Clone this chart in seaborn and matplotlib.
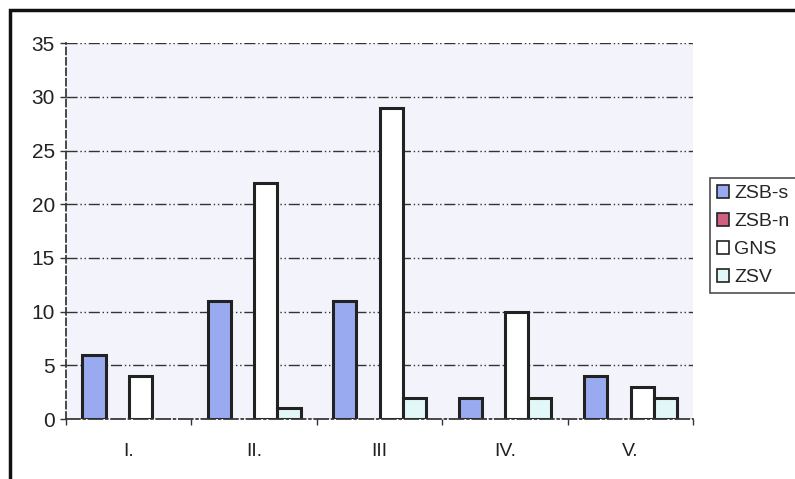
import matplotlib
matplotlib.use("Agg")
import matplotlib.pyplot as plt
import seaborn as sns
import pandas as pd
from matplotlib.patches import Rectangle

categories = ["I.", "II.", "III", "IV.", "V."]
series = ["ZSB-s", "ZSB-n", "GNS", "ZSV"]
zsb_s = [6, 11, 11, 2, 4]
zsb_n = [0, 0, 0, 0, 0]
gns = [4, 22, 29, 10, 3]
zsv = [0, 1, 2, 2, 2]
colors = ["#9aaaf0", "#d06080", "#ffffff", "#e2f8f8"]

rows = []
for name, vals in zip(series, [zsb_s, zsb_n, gns, zsv]):
    for c, v in zip(categories, vals):
        rows.append({"cat": c, "series": name, "value": v})
df = pd.DataFrame(rows)

sns.set_theme(style="white")
plt.rcParams['font.family'] = ['Liberation Sans', 'DejaVu Sans']

fig = plt.figure(figsize=(7.95, 4.79), dpi=100)
ax = fig.add_axes([0.083, 0.125, 0.789, 0.785])
ax.set_facecolor("#f3f3fb")

sns.barplot(data=df, x="cat", y="value", hue="series", order=categories,
            hue_order=series, palette=colors, width=0.74, edgecolor="#222222",
            linewidth=2.2, ax=ax, legend=False, saturation=1)
for p in ax.patches:
    if p.get_height() == 0:
        p.set_linewidth(0)

ax.set_ylim(0, 35)
ax.set_yticks(range(0, 36, 5))
ax.set_xlim(-0.5, 4.5)
ax.yaxis.grid(True, color="#333333", linestyle=(0, (8, 2, 1, 2, 1, 2)), linewidth=1)
ax.set_axisbelow(True)
ax.set_xlabel("")
ax.set_ylabel("")
for s in ["top", "right"]:
    ax.spines[s].set_visible(False)
ax.spines["left"].set_color("#333333")
ax.spines["left"].set_linestyle((0, (4, 2)))
ax.spines["bottom"].set_color("#333333")
ax.spines["bottom"].set_linestyle((0, (8, 2, 1, 2)))
ax.set_xticks([i - 0.5 for i in range(6)], minor=True)
ax.tick_params(axis="x", which="minor", length=4, width=1, color="#333333", bottom=True)
ax.tick_params(axis="x", which="major", length=0, labelsize=14, pad=17)
ax.tick_params(axis="y", length=4, width=1, color="#333333", left=True, labelsize=15, pad=4)
for t in ax.get_xticklabels() + ax.get_yticklabels():
    t.set_color("#222222")

handles = [Rectangle((0, 0), 1, 1, facecolor=c, edgecolor="#222222", linewidth=1.2) for c in colors]
leg = fig.legend(handles, series, loc="upper left", bbox_to_anchor=(0.893, 0.628),
                 frameon=True, fancybox=False, fontsize=14, handlelength=0.65,
                 handleheight=0.65, handletextpad=0.25, labelspacing=0.55,
                 borderpad=0.35, borderaxespad=0)
leg.get_frame().set_edgecolor("#222222")
leg.get_frame().set_linewidth(1.2)

fig.patches.append(Rectangle((0.013, -0.01), 1.2, 0.99, transform=fig.transFigure,
                             fill=False, edgecolor="#111111", linewidth=2.5))

fig.savefig("out.png", dpi=100)
